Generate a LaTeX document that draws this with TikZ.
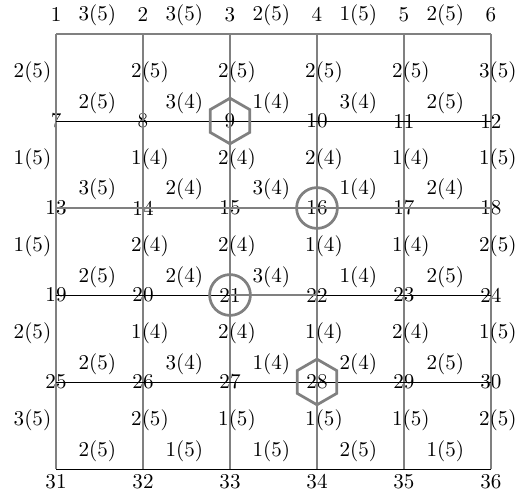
\documentclass[tikz,border=0pt]{standalone}
\usepackage{tikz}
\usetikzlibrary{shapes.geometric}

\begin{document}
\begin{tikzpicture}[x=1.45cm, y=1.45cm,
  corner/.style={inner sep=0pt, minimum size=0pt},
  toppt/.style={corner, label={[yshift=2pt]above:#1}},
  midpt/.style={corner, label={center:#1}},
  botpt/.style={corner, label={[yshift=-0.3pt, inner sep=2pt]below:#1}},
  greyline/.style={draw=gray, line width=0.9pt},
  thinline/.style={draw=black, line width=0.4pt},
  route/.style={draw=gray, line width=1.4pt},
  hlab/.style={above, xshift=-1pt},
  vlab/.style={xshift=3.3pt, yshift=2.6pt},
  llab/.style={left=-1.5pt, yshift=2.6pt},
  hexmark/.style={regular polygon, regular polygon sides=6, shape border rotate=30,
                  draw=gray, line width=1.3pt, minimum size=0.76cm, inner sep=0pt},
  ringmark/.style={circle, draw=gray, line width=1.3pt,
                   minimum size=0.68cm, inner sep=0pt}
]
\useasboundingbox (-0.644,-5.287) rectangle (5.322,0.391);

% grid points
\node[toppt=1] (n1) at (0,0) {};
\node[toppt=2] (n2) at (1,0) {};
\node[toppt=3] (n3) at (2,0) {};
\node[toppt=4] (n4) at (3,0) {};
\node[toppt=5] (n5) at (4,0) {};
\node[toppt=6] (n6) at (5,0) {};

\node[midpt=7]  (n7)  at (0,-1) {};
\node[midpt=8]  (n8)  at (1,-1) {};
\node[midpt=9]  (n9)  at (2,-1) {};
\node[midpt=10] (n10) at (3,-1) {};
\node[midpt=11] (n11) at (4,-1) {};
\node[midpt=12] (n12) at (5,-1) {};

\node[midpt=13] (n13) at (0,-2) {};
\node[midpt=14] (n14) at (1,-2) {};
\node[midpt=15] (n15) at (2,-2) {};
\node[midpt=16] (n16) at (3,-2) {};
\node[midpt=17] (n17) at (4,-2) {};
\node[midpt=18] (n18) at (5,-2) {};

\node[midpt=19] (n19) at (0,-3) {};
\node[midpt=20] (n20) at (1,-3) {};
\node[midpt=21] (n21) at (2,-3) {};
\node[midpt=22] (n22) at (3,-3) {};
\node[midpt=23] (n23) at (4,-3) {};
\node[midpt=24] (n24) at (5,-3) {};

\node[midpt=25] (n25) at (0,-4) {};
\node[midpt=26] (n26) at (1,-4) {};
\node[midpt=27] (n27) at (2,-4) {};
\node[midpt=28] (n28) at (3,-4) {};
\node[midpt=29] (n29) at (4,-4) {};
\node[midpt=30] (n30) at (5,-4) {};

\node[botpt=31] (n31) at (0,-5) {};
\node[botpt=32] (n32) at (1,-5) {};
\node[botpt=33] (n33) at (2,-5) {};
\node[botpt=34] (n34) at (3,-5) {};
\node[botpt=35] (n35) at (4,-5) {};
\node[botpt=36] (n36) at (5,-5) {};

% vertical edges
\draw[greyline] (n1) -- node[llab]{2(5)} (n7) -- node[llab]{1(5)} (n13)
  -- node[llab]{1(5)} (n19) -- node[llab]{2(5)} (n25) -- node[llab]{3(5)} (n31);
\draw[greyline] (n2) -- node[vlab]{2(5)} (n8) -- node[vlab]{1(4)} (n14)
  -- node[vlab]{2(4)} (n20) -- node[vlab]{1(4)} (n26) -- node[vlab]{2(5)} (n32);
\draw[greyline] (n3) -- node[vlab]{2(5)} (n9) -- node[vlab]{2(4)} (n15)
  -- node[vlab]{2(4)} (n21) -- node[vlab]{2(4)} (n27) -- node[vlab]{1(5)} (n33);
\draw[greyline] (n4) -- node[vlab]{2(5)} (n10) -- node[vlab]{2(4)} (n16)
  -- node[vlab]{1(4)} (n22) -- node[vlab]{1(4)} (n28) -- node[vlab]{1(5)} (n34);
\draw[greyline] (n5) -- node[vlab]{2(5)} (n11) -- node[vlab]{1(4)} (n17)
  -- node[vlab]{1(4)} (n23) -- node[vlab]{2(4)} (n29) -- node[vlab]{1(5)} (n35);
\draw[greyline] (n6) -- node[vlab]{3(5)} (n12) -- node[vlab]{1(5)} (n18)
  -- node[vlab]{2(5)} (n24) -- node[vlab]{1(5)} (n30) -- node[vlab]{2(5)} (n36);

% horizontal edges
\draw[greyline] (n1) -- node[hlab]{3(5)} (n2) -- node[hlab]{3(5)} (n3)
  -- node[hlab]{2(5)} (n4) -- node[hlab]{1(5)} (n5) -- node[hlab]{2(5)} (n6);
\draw[thinline] (n7) -- node[hlab]{2(5)} (n8) -- node[hlab]{3(4)} (n9)
  -- node[hlab]{1(4)} (n10) -- node[hlab]{3(4)} (n11) -- node[hlab]{2(5)} (n12);
\draw[greyline] (n13) -- node[hlab]{3(5)} (n14) -- node[hlab]{2(4)} (n15)
  -- node[hlab]{3(4)} (n16) -- node[hlab]{1(4)} (n17) -- node[hlab]{2(4)} (n18);
\draw[thinline] (n19) -- node[hlab]{2(5)} (n20) -- node[hlab]{2(4)} (n21)
  -- node[hlab]{3(4)} (n22) -- node[hlab]{1(4)} (n23) -- node[hlab]{2(5)} (n24);
\draw[thinline] (n25) -- node[hlab]{2(5)} (n26) -- node[hlab]{3(4)} (n27)
  -- node[hlab]{1(4)} (n28) -- node[hlab]{2(4)} (n29) -- node[hlab]{2(5)} (n30);
\draw[thinline] (n31) -- node[hlab]{2(5)} (n32) -- node[hlab]{1(5)} (n33)
  -- node[hlab]{1(5)} (n34) -- node[hlab]{2(5)} (n35) -- node[hlab]{1(5)} (n36);

% highlighted cycle
\draw[route] (n15) -- (n16) -- (n22) -- (n21) -- cycle;

% markers
\node[hexmark]  (hex9)   at (n9)  {};
\node[hexmark]  (hex28)  at (n28) {};
\node[ringmark] (ring16) at (n16) {};
\node[ringmark] (ring21) at (n21) {};

\end{tikzpicture}
\end{document}
